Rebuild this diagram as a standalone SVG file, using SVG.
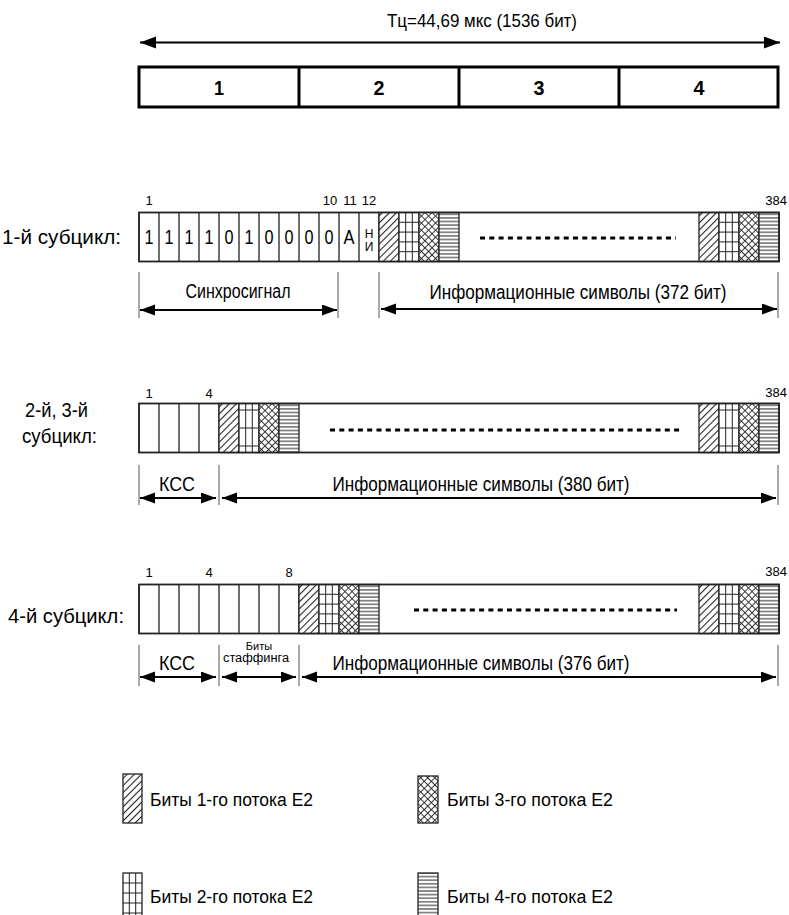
<svg xmlns="http://www.w3.org/2000/svg" xmlns:xlink="http://www.w3.org/1999/xlink" width="789" height="915" viewBox="0 0 789 915">
<style>
  text { font-family: "Liberation Sans", Arial, sans-serif; fill: #000; }
  .cell { fill: #fff; stroke: #222; stroke-width: 1.3; }
  .box { fill: none; stroke: #222; stroke-width: 1.6; }
  .thick { fill: #fff; stroke: #000; stroke-width: 3; }
  .big { font-size: 21px; font-weight: bold; text-anchor: middle; }
  .num { font-size: 21px; text-anchor: middle; }
  .idx { font-size: 13px; text-anchor: middle; }
  .idxr { font-size: 13px; text-anchor: end; }
  .lbl { font-size: 21px; }
  .info { font-size: 20px; text-anchor: middle; }
  .leg { font-size: 18px; }
  .dots { stroke: #000; stroke-width: 3; stroke-dasharray: 5 4.3; fill: none; }
  .tick { stroke: #555; stroke-width: 1; fill: none; }
  .arr { stroke: #000; stroke-width: 1.8; fill: none; marker-start: url(#ah); marker-end: url(#ah); }
  .arrTop { stroke: #000; stroke-width: 2; fill: none; marker-start: url(#ah2); marker-end: url(#ah2); }
  .hl { stroke: #222; stroke-width: 1; fill: none; }
</style>
<defs>
  <marker id="ah" markerUnits="userSpaceOnUse" markerWidth="16" markerHeight="12" refX="15" refY="5.5" orient="auto-start-reverse">
    <path d="M0,0 L15,5.5 L0,11 Z" fill="#000"/>
  </marker>
  <marker id="ah2" markerUnits="userSpaceOnUse" markerWidth="17" markerHeight="13" refX="16" refY="6" orient="auto-start-reverse">
    <path d="M0,0 L16,6 L0,12 Z" fill="#000"/>
  </marker>
  <pattern id="pDiag" patternUnits="userSpaceOnUse" width="5" height="5" patternTransform="rotate(45)">
    <rect width="5" height="5" fill="#fff"/>
    <line x1="2.5" y1="0" x2="2.5" y2="5" stroke="#222" stroke-width="1.1"/>
  </pattern>
  <pattern id="pCross" patternUnits="userSpaceOnUse" width="5" height="5" patternTransform="rotate(45)">
    <rect width="5" height="5" fill="#fff"/>
    <line x1="2.5" y1="0" x2="2.5" y2="5" stroke="#222" stroke-width="0.9"/>
    <line x1="0" y1="2.5" x2="5" y2="2.5" stroke="#222" stroke-width="0.9"/>
  </pattern>
  <pattern id="pHor" patternUnits="userSpaceOnUse" width="4" height="3.6">
    <rect width="4" height="3.6" fill="#fff"/>
    <line x1="0" y1="1.8" x2="4" y2="1.8" stroke="#222" stroke-width="1"/>
  </pattern>
  <g id="hs5">
    <rect class="cell" x="0" y="0" width="20" height="49" style="fill:url(#pDiag)"/>
    <rect class="cell" x="20" y="0" width="20" height="49"/>
    <path class="hl" d="M26.7,0 V49 M33.3,0 V49 M20,9.8 H40 M20,19.6 H40 M20,29.4 H40 M20,39.2 H40"/>
    <rect class="cell" x="40" y="0" width="20" height="49" style="fill:url(#pCross)"/>
    <rect class="cell" x="60" y="0" width="20" height="49" style="fill:url(#pHor)"/>
  </g>
  <g id="hs3">
    <rect class="cell" x="0" y="0" width="20" height="49" style="fill:url(#pDiag)"/>
    <rect class="cell" x="20" y="0" width="20" height="49"/>
    <path class="hl" d="M26.7,0 V49 M33.3,0 V49 M20,6.5 H40 M20,24.5 H40 M20,42.5 H40"/>
    <rect class="cell" x="40" y="0" width="20" height="49" style="fill:url(#pCross)"/>
    <rect class="cell" x="60" y="0" width="20" height="49" style="fill:url(#pHor)"/>
  </g>
</defs>

<g id="cycle">
  <text x="387" y="27" font-size="18" textLength="190" lengthAdjust="spacingAndGlyphs">Тц=44,69 мкс (1536 бит)</text>
  <rect class="thick" x="139" y="67" width="639" height="40"/>
  <path d="M299,67 V107 M459,67 V107 M619,67 V107" stroke="#000" stroke-width="3" fill="none"/>
  <text class="big" x="219" y="95" textLength="10" lengthAdjust="spacingAndGlyphs">1</text>
  <text class="big" x="379" y="95" textLength="11" lengthAdjust="spacingAndGlyphs">2</text>
  <text class="big" x="539" y="95" textLength="11" lengthAdjust="spacingAndGlyphs">3</text>
  <text class="big" x="699" y="95" textLength="11" lengthAdjust="spacingAndGlyphs">4</text>
</g>

<g id="sub1">
  <text class="lbl" x="2" y="244" textLength="119" lengthAdjust="spacingAndGlyphs">1-й субцикл:</text>
  <rect class="cell" x="139" y="212.5" width="640" height="49"/>
  <path class="cell" d="M159,212.5 V261.5 M179,212.5 V261.5 M199,212.5 V261.5 M219,212.5 V261.5 M239,212.5 V261.5 M259,212.5 V261.5 M279,212.5 V261.5 M299,212.5 V261.5 M319,212.5 V261.5 M339,212.5 V261.5 M359,212.5 V261.5 M379,212.5 V261.5"/>
  <use xlink:href="#hs5" x="379" y="212.5"/>
  <use xlink:href="#hs5" x="699" y="212.5"/>
  <line class="dots" x1="480" y1="238" x2="676" y2="238"/>
  <rect class="box" x="139" y="212.5" width="640" height="49"/>
  <text class="idx" x="149" y="205">1</text>
  <text class="idx" x="330" y="205">10</text>
  <text class="idx" x="350" y="205">11</text>
  <text class="idx" x="369" y="205">12</text>
  <text class="idxr" x="787" y="205">384</text>
  <text class="num" x="149" y="244" textLength="9" lengthAdjust="spacingAndGlyphs">1</text>
  <text class="num" x="169" y="244" textLength="9" lengthAdjust="spacingAndGlyphs">1</text>
  <text class="num" x="189" y="244" textLength="9" lengthAdjust="spacingAndGlyphs">1</text>
  <text class="num" x="209" y="244" textLength="9" lengthAdjust="spacingAndGlyphs">1</text>
  <text class="num" x="229" y="244" textLength="9" lengthAdjust="spacingAndGlyphs">0</text>
  <text class="num" x="249" y="244" textLength="9" lengthAdjust="spacingAndGlyphs">1</text>
  <text class="num" x="269" y="244" textLength="9" lengthAdjust="spacingAndGlyphs">0</text>
  <text class="num" x="289" y="244" textLength="9" lengthAdjust="spacingAndGlyphs">0</text>
  <text class="num" x="309" y="244" textLength="9" lengthAdjust="spacingAndGlyphs">0</text>
  <text class="num" x="329" y="244" textLength="9" lengthAdjust="spacingAndGlyphs">0</text>
  <text class="num" x="349" y="244" textLength="11" lengthAdjust="spacingAndGlyphs">А</text>
  <text x="369" y="238" font-size="12" text-anchor="middle">Н</text>
  <text x="369" y="251" font-size="12" text-anchor="middle">И</text>
</g>

<g id="sub23">
  <text class="lbl" x="25" y="417" textLength="63" lengthAdjust="spacingAndGlyphs">2-й, 3-й</text>
  <text class="lbl" x="22" y="443" textLength="75" lengthAdjust="spacingAndGlyphs">субцикл:</text>
  <rect class="cell" x="139" y="403.5" width="640" height="49"/>
  <path class="cell" d="M159,403.5 V452.5 M179,403.5 V452.5 M199,403.5 V452.5 M219,403.5 V452.5"/>
  <use xlink:href="#hs3" x="219" y="403.5"/>
  <use xlink:href="#hs3" x="699" y="403.5"/>
  <line class="dots" x1="330" y1="430" x2="681" y2="430"/>
  <rect class="box" x="139" y="403.5" width="640" height="49"/>
  <text class="idx" x="149" y="398">1</text>
  <text class="idx" x="209" y="398">4</text>
  <text class="idxr" x="787" y="397">384</text>
</g>

<g id="sub4">
  <text class="lbl" x="8" y="623" textLength="116" lengthAdjust="spacingAndGlyphs">4-й субцикл:</text>
  <rect class="cell" x="139" y="584.5" width="640" height="49"/>
  <path class="cell" d="M159,584.5 V633.5 M179,584.5 V633.5 M199,584.5 V633.5 M219,584.5 V633.5 M239,584.5 V633.5 M259,584.5 V633.5 M279,584.5 V633.5 M299,584.5 V633.5"/>
  <use xlink:href="#hs5" x="299" y="584.5"/>
  <use xlink:href="#hs5" x="699" y="584.5"/>
  <line class="dots" x1="414" y1="610" x2="677" y2="610"/>
  <rect class="box" x="139" y="584.5" width="640" height="49"/>
  <text class="idx" x="149" y="577">1</text>
  <text class="idx" x="209" y="577">4</text>
  <text class="idx" x="289" y="577">8</text>
  <text class="idxr" x="787" y="576">384</text>
</g>

<g id="connectors">
  <line class="arrTop" x1="140" y1="42.5" x2="780" y2="42.5"/>
  <path class="tick" d="M139,272 V318 M338,272 V318 M379,272 V318 M778,272 V318"/>
  <line class="arr" x1="140" y1="310" x2="337" y2="310"/>
  <line class="arr" x1="381" y1="309" x2="777" y2="309"/>
  <path class="tick" d="M139,465 V505 M219,465 V505 M778,465 V505"/>
  <line class="arr" x1="140" y1="498" x2="216" y2="498"/>
  <line class="arr" x1="222" y1="498" x2="776" y2="498"/>
  <path class="tick" d="M139,645 V686 M219,645 V686 M299,645 V686 M778,645 V686"/>
  <line class="arr" x1="140" y1="677" x2="216" y2="677"/>
  <line class="arr" x1="222" y1="677" x2="296" y2="677"/>
  <line class="arr" x1="302" y1="677" x2="776" y2="677"/>
</g>

<g id="spanLabels">
  <text class="info" x="238" y="298" textLength="105" lengthAdjust="spacingAndGlyphs">Синхросигнал</text>
  <text class="info" x="578" y="299" textLength="297" lengthAdjust="spacingAndGlyphs">Информационные символы (372 бит)</text>
  <text class="info" x="177" y="491" textLength="36" lengthAdjust="spacingAndGlyphs">КСС</text>
  <text class="info" x="481" y="491" textLength="297" lengthAdjust="spacingAndGlyphs">Информационные символы (380 бит)</text>
  <text class="info" x="177" y="670" textLength="36" lengthAdjust="spacingAndGlyphs">КСС</text>
  <text x="259" y="650" font-size="11" text-anchor="middle">Биты</text>
  <text x="256" y="662" font-size="12" text-anchor="middle" textLength="66" lengthAdjust="spacingAndGlyphs">стаффинга</text>
  <text class="info" x="481" y="670" textLength="297" lengthAdjust="spacingAndGlyphs">Информационные символы (376 бит)</text>
</g>

<g id="legend">
  <g id="leg1">
    <rect class="cell" x="123" y="774" width="19" height="49" style="fill:url(#pDiag)"/>
    <text class="leg" x="150" y="806" textLength="163" lengthAdjust="spacingAndGlyphs">Биты 1-го потока Е2</text>
  </g>
  <g id="leg3">
    <rect class="cell" x="418" y="776" width="20" height="47" style="fill:url(#pCross)"/>
    <text class="leg" x="447" y="806" textLength="166" lengthAdjust="spacingAndGlyphs">Биты 3-го потока Е2</text>
  </g>
  <g id="leg2">
    <rect class="cell" x="123" y="873" width="19" height="50"/>
    <path class="hl" d="M129.3,873 V915 M135.7,873 V915 M123,883 H142 M123,893 H142 M123,903 H142 M123,913 H142"/>
    <text class="leg" x="150" y="903" textLength="163" lengthAdjust="spacingAndGlyphs">Биты 2-го потока Е2</text>
  </g>
  <g id="leg4">
    <rect class="cell" x="418" y="873" width="20" height="50" style="fill:url(#pHor)"/>
    <text class="leg" x="447" y="903" textLength="166" lengthAdjust="spacingAndGlyphs">Биты 4-го потока Е2</text>
  </g>
</g>
</svg>
